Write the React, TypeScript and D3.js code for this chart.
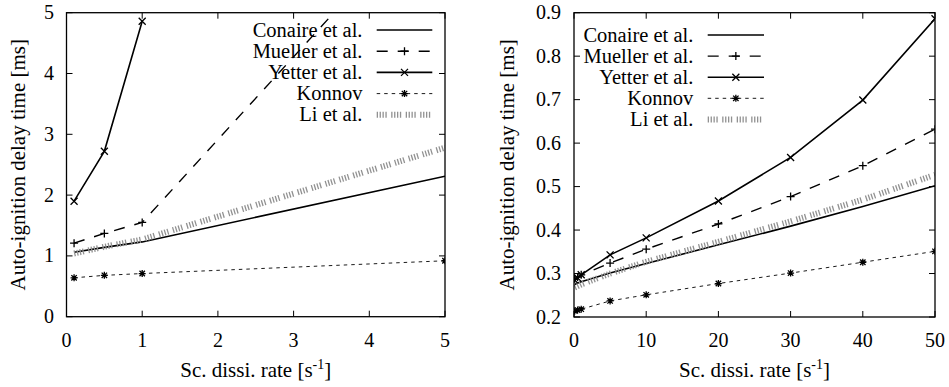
import * as d3 from 'd3';

// left panel: low scalar dissipation rates
const xLeft = [0.1, 0.5, 1, 5];
const conaireLeft = [1.06, 1.14, 1.23, 2.31];
const muellerLeft = [1.21, 1.37, 1.55, 7.0];
const yetterLeftX = [0.1, 0.5, 1];
const yetterLeft = [1.9, 2.72, 4.86];
const konnovLeft = [0.64, 0.68, 0.71, 0.92];
const liLeft = [1.04, 1.15, 1.27, 2.78];

// right panel: high scalar dissipation rates
const xRight = [0.1, 0.5, 1, 5, 10, 20, 30, 40, 50];
const conaireRight = [0.275, 0.278, 0.281, 0.301, 0.323, 0.366, 0.409, 0.454, 0.502];
const muellerRight = [0.288, 0.292, 0.297, 0.324, 0.356, 0.414, 0.477, 0.548, 0.632];
const yetterRight = [0.285, 0.29, 0.297, 0.343, 0.382, 0.467, 0.567, 0.699, 0.886];
const konnovRight = [0.214, 0.216, 0.218, 0.237, 0.251, 0.277, 0.301, 0.326, 0.351];
const liRight = [0.268, 0.271, 0.275, 0.3, 0.327, 0.373, 0.42, 0.47, 0.527];

const seriesNames = ['Conaire et al.', 'Mueller et al.', 'Yetter et al.', 'Konnov', 'Li et al.'];
const leftTicksX = [0, 1, 2, 3, 4, 5];
const leftTicksY = [0, 1, 2, 3, 4, 5];
const rightTicksX = [0, 10, 20, 30, 40, 50];
const rightTicksY = [0.2, 0.3, 0.4, 0.5, 0.6, 0.7, 0.8, 0.9];

const font = (size: number) => ({ fontFamily: '"Liberation Serif"', fontSize: `${size}px` });

type Style = { stroke: string; width: number; dash?: string; marker?: string };
const styles: Style[] = [
  { stroke: '#000', width: 1.6 },
  { stroke: '#000', width: 1.4, dash: '11,10', marker: 'plus' },
  { stroke: '#000', width: 1.6, marker: 'cross' },
  { stroke: '#000', width: 0.9, dash: '3.5,4', marker: 'star' },
  { stroke: '#919191', width: 6, dash: '1.3,1.6,1.3,1.6,1.3,1.6,1.3,4.5' },
];

const markerPath = (m?: string) => {
  if (m === 'plus') return 'M-4,0H4M0,-4V4';
  if (m === 'cross') return 'M-3.5,-3.5L3.5,3.5M-3.5,3.5L3.5,-3.5';
  if (m === 'star') return 'M-3.5,0H3.5M0,-3.5V3.5M-2.7,-2.7L2.7,2.7M-2.7,2.7L2.7,-2.7';
  return '';
};

type Series = { xs: number[]; ys: number[] };

type PanelProps = {
  id: string;
  x0: number; x1: number; y0: number; y1: number;
  xDomain: [number, number]; yDomain: [number, number];
  xTicks: number[]; yTicks: number[];
  yFmt: (v: number) => string;
  series: Series[];
  labelRight: number;
  legendTextEnd: number; legendTop: number; legendStep: number;
  sampleX0: number; sampleX1: number;
  yTitleX: number;
};

const Panel = (p: PanelProps) => {
  const x = d3.scaleLinear().domain(p.xDomain).range([p.x0, p.x1]);
  const y = d3.scaleLinear().domain(p.yDomain).range([p.y1, p.y0]);
  const line = d3.line<[number, number]>().x(d => x(d[0])).y(d => y(d[1]));
  const tick = 6;
  const cx = (p.x0 + p.x1) / 2;
  const cy = (p.y0 + p.y1) / 2;
  return (
    <g>
      <defs>
        <clipPath id={`clip-${p.id}`}>
          <rect x={p.x0} y={p.y0} width={p.x1 - p.x0} height={p.y1 - p.y0} />
        </clipPath>
      </defs>
      {/* ticks, mirrored on all sides */}
      {p.xTicks.map(t => (
        <g key={`xt${t}`} stroke="#000" strokeWidth={1}>
          <line x1={x(t)} x2={x(t)} y1={p.y1} y2={p.y1 - tick} />
          <line x1={x(t)} x2={x(t)} y1={p.y0} y2={p.y0 + tick} />
        </g>
      ))}
      {p.yTicks.map(t => (
        <g key={`yt${t}`} stroke="#000" strokeWidth={1}>
          <line x1={p.x0} x2={p.x0 + tick} y1={y(t)} y2={y(t)} />
          <line x1={p.x1} x2={p.x1 - tick} y1={y(t)} y2={y(t)} />
        </g>
      ))}
      {p.xTicks.map(t => (
        <text key={`xl${t}`} x={x(t)} y={347} textAnchor="middle" style={font(20)}>{t}</text>
      ))}
      {p.yTicks.map(t => (
        <text key={`yl${t}`} x={p.labelRight} y={y(t) + 6.5} textAnchor="end" style={font(20)}>{p.yFmt(t)}</text>
      ))}
      <text x={cx} y={377} textAnchor="middle" style={font(21)}>
        Sc. dissi. rate [s<tspan dy={-8} style={font(14)}>-1</tspan><tspan dy={8}>]</tspan>
      </text>
      <text transform={`translate(${p.yTitleX},${cy}) rotate(-90)`} textAnchor="middle" style={font(21)}>
        Auto-ignition delay time [ms]
      </text>
      {/* series */}
      <g clipPath={`url(#clip-${p.id})`}>
        {p.series.map((s, i) => {
          const st = styles[i];
          const pts = s.xs.map((v, j) => [v, s.ys[j]] as [number, number]);
          return (
            <g key={`s${i}`}>
              <path d={line(pts) || ''} fill="none" stroke={st.stroke} strokeWidth={st.width} strokeDasharray={st.dash} />
              {st.marker && pts.map((d, j) => (
                <path key={j} d={markerPath(st.marker)} transform={`translate(${x(d[0])},${y(d[1])})`} stroke="#000" strokeWidth={1.3} fill="none" />
              ))}
            </g>
          );
        })}
      </g>
      {/* legend */}
      {seriesNames.map((name, i) => {
        const st = styles[i];
        const ly = p.legendTop + i * p.legendStep;
        return (
          <g key={`lg${i}`}>
            <text x={p.legendTextEnd} y={ly + 6.5} textAnchor="end" style={font(20.5)}>{name}</text>
            <line x1={p.sampleX0} x2={p.sampleX1} y1={ly} y2={ly} stroke={st.stroke} strokeWidth={st.width} strokeDasharray={st.dash} />
            {st.marker && (
              <path d={markerPath(st.marker)} transform={`translate(${(p.sampleX0 + p.sampleX1) / 2},${ly})`} stroke="#000" strokeWidth={1.3} fill="none" />
            )}
          </g>
        );
      })}
      <rect x={p.x0} y={p.y0} width={p.x1 - p.x0} height={p.y1 - p.y0} fill="none" stroke="#000" strokeWidth={1.3} />
    </g>
  );
};

export default function App() {
  return (
    <svg width={949} height={387} style={{ position: 'absolute', left: 0, top: 0, background: '#fff' }}>
      <rect width={949} height={387} fill="#fff" />
      <Panel
        id="left"
        x0={66.5} x1={445} y0={12.7} y1={316.7}
        xDomain={[0, 5]} yDomain={[0, 5]}
        xTicks={leftTicksX} yTicks={leftTicksY}
        yFmt={v => String(v)}
        series={[
          { xs: xLeft, ys: conaireLeft },
          { xs: xLeft, ys: muellerLeft },
          { xs: yetterLeftX, ys: yetterLeft },
          { xs: xLeft, ys: konnovLeft },
          { xs: xLeft, ys: liLeft },
        ]}
        labelRight={54}
        legendTextEnd={362.5} legendTop={30} legendStep={21.2}
        sampleX0={376.7} sampleX1={432.3}
        yTitleX={25}
      />
      <Panel
        id="right"
        x0={574} x1={935} y0={12.7} y1={317}
        xDomain={[0, 50]} yDomain={[0.2, 0.9]}
        xTicks={rightTicksX} yTicks={rightTicksY}
        yFmt={v => d3.format('.1f')(v)}
        series={[
          { xs: xRight, ys: conaireRight },
          { xs: xRight, ys: muellerRight },
          { xs: xRight, ys: yetterRight },
          { xs: xRight, ys: konnovRight },
          { xs: xRight, ys: liRight },
        ]}
        labelRight={561}
        legendTextEnd={693.3} legendTop={35} legendStep={21.1}
        sampleX0={707.7} sampleX1={764}
        yTitleX={514}
      />
    </svg>
  );
}
